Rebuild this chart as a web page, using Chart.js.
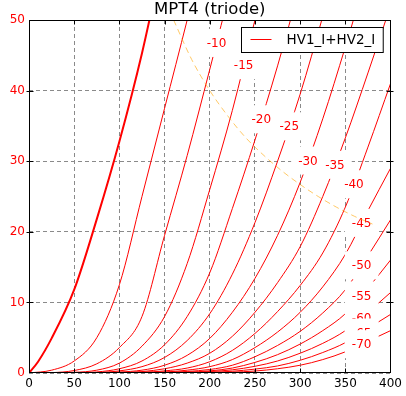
<!DOCTYPE html>
<html>
<head>
<meta charset="utf-8">
<script src="https://cdn.jsdelivr.net/npm/chart.js@4.4.1/dist/chart.umd.min.js"></script>
<style>
  html, body { margin: 0; padding: 0; background: #fff; }
</style>
</head>
<body>
<canvas id="c" width="406" height="396"></canvas>
<script>
// grid voltage of each plate curve (V)
const gridVolts = [0, -5, -10, -15, -20, -25, -30, -35, -40, -45, -50, -55, -60, -65, -70];

// plate curves: [plate V, plate mA]
const vg0  = [[0,0],[10,1.6],[25,4.9],[50,11.8],[75,21.8],[100,32.8],[125,45.3],[150,60]];
const vg5  = [[0,0],[25,0.4],[50,1.7],[75,5.0],[100,12.5],[125,25.0],[150,37.5],[175,50],[200,63]];
const vg10 = [[0,0],[25,0.05],[50,0.35],[75,1.3],[100,3.6],[125,8.0],[150,19.5],[175,30.8],[200,43],[225,55.5]];
const vg15 = [[0,0],[50,0.1],[75,0.4],[100,1.4],[125,3.8],[150,8.0],[175,15.5],[200,26.0],[225,37.2],[250,50],[275,62]];
const vg20 = [[0,0],[50,0.02],[75,0.15],[100,0.6],[125,1.7],[150,4.0],[175,8.0],[200,14.2],[225,23.3],[250,33.0],[275,43.5],[300,55]];
const vg25 = [[0,0],[75,0.05],[100,0.3],[125,0.9],[150,2.2],[175,4.6],[200,8.4],[225,14.0],[250,21.3],[275,30.0],[300,39.5],[325,50.5],[350,62]];
const vg30 = [[0,0],[100,0.15],[125,0.4],[150,1.1],[175,2.5],[200,4.9],[225,8.6],[250,13.4],[275,19.5],[300,27.0],[325,36.0],[350,46.2],[375,57]];
const vg35 = [[0,0],[100,0.05],[125,0.2],[150,0.6],[175,1.4],[200,2.8],[225,5.2],[250,8.6],[275,12.8],[300,17.9],[325,25.0],[350,33.3],[375,42.5],[400,52]];
const vg40 = [[0,0],[125,0.1],[150,0.3],[175,0.7],[200,1.6],[225,3.2],[250,5.6],[275,8.7],[300,12.4],[325,17.0],[350,23.5],[375,32],[400,41]];
const vg45 = [[0,0],[150,0.15],[175,0.4],[200,0.9],[225,1.9],[250,3.6],[275,5.8],[300,8.6],[325,12.2],[350,16.8],[375,23.0],[400,29.0]];
const vg50 = [[0,0],[150,0.08],[175,0.22],[200,0.5],[225,1.1],[250,2.3],[275,3.9],[300,5.9],[325,8.5],[350,11.8],[375,16.6],[400,21.7]];
const vg55 = [[0,0],[175,0.12],[200,0.3],[225,0.7],[250,1.5],[275,2.6],[300,4.1],[325,6.0],[350,8.4],[375,12.0],[400,16.0]];
const vg60 = [[0,0],[175,0.07],[200,0.2],[225,0.45],[250,0.95],[275,1.7],[300,2.8],[325,4.2],[350,6.0],[375,8.6],[400,11.4]];
const vg65 = [[0,0],[200,0.1],[225,0.25],[250,0.55],[275,1.0],[300,1.8],[325,2.9],[350,4.3],[375,6.3],[400,8.3]];
const vg70 = [[0,0],[200,0.05],[225,0.12],[250,0.28],[275,0.6],[300,1.1],[325,1.9],[350,3.0],[375,4.5],[400,6.0]];
const curves = [vg0, vg5, vg10, vg15, vg20, vg25, vg30, vg35, vg40, vg45, vg50, vg55, vg60, vg65, vg70];

// plate voltage where each inline label sits (curves -10 .. -70)
const labelPlateV = [207.5, 237.5, 257, 288, 308.6, 338.5, 359.5, 368, 368, 368, 368, 368, 368];

// max dissipation line (dashed orange)
const pdissV = [160, 180, 200, 220, 240, 260, 280, 300, 320, 340, 360, 380];
const pdissI = [50, 44.4, 40, 36.4, 33.3, 30.8, 28.6, 26.7, 25, 23.5, 22.2, 21.1];

const xTicks = [0, 50, 100, 150, 200, 250, 300, 350, 400];
const yTicks = [0, 10, 20, 30, 40, 50];

const seriesName = 'HV1_I+HV2_I';
const title = 'MPT4 (triode)';
const RED = '#ff0000';
const FONT = '"DejaVu Sans"';

function interp(pts, v) {
  for (let i = 1; i < pts.length; i++) {
    if (v <= pts[i][0]) {
      const [x0, y0] = pts[i - 1], [x1, y1] = pts[i];
      return y0 + (y1 - y0) * (v - x0) / (x1 - x0);
    }
  }
  return pts[pts.length - 1][1];
}

const overlay = {
  id: 'overlay',
  afterDatasetDraw(chart, args) {
    // labels go over the curves but under the dissipation line
    if (args.index !== 1) return;
    const { ctx, scales: { x, y } } = chart;
    ctx.save();
    ctx.font = '12px ' + FONT;
    ctx.textAlign = 'center';
    ctx.textBaseline = 'middle';
    labelPlateV.forEach((v, k) => {
      const n = k + 2;
      const txt = String(gridVolts[n]);
      const px = x.getPixelForValue(v);
      const py = y.getPixelForValue(interp(curves[n], v));
      const w = ctx.measureText(txt).width;
      ctx.fillStyle = '#fff';
      ctx.fillRect(px - w / 2 - 7, py - 14, w + 14, 28);
      ctx.fillStyle = RED;
      ctx.fillText(txt, px, py + 1);
    });
    ctx.restore();
  },
  afterDatasetsDraw(chart) {
    const { ctx, chartArea: a } = chart;
    ctx.save();
    ctx.font = '13.5px ' + FONT;
    const tw = ctx.measureText(seriesName).width;
    const w = 45 + tw + 8, h = 25;
    const x0 = Math.round(a.right - 8 - w) + 0.5, y0 = Math.round(a.top + 7) + 0.5;
    ctx.fillStyle = '#fff';
    ctx.fillRect(x0, y0, w, h);
    ctx.strokeStyle = '#000';
    ctx.lineWidth = 1;
    ctx.strokeRect(x0, y0, w, h);
    ctx.strokeStyle = RED;
    ctx.beginPath();
    ctx.moveTo(x0 + 9, y0 + 12);
    ctx.lineTo(x0 + 30, y0 + 12);
    ctx.stroke();
    ctx.fillStyle = '#000';
    ctx.textBaseline = 'middle';
    ctx.fillText(seriesName, x0 + 45, y0 + 13);
    ctx.restore();
  },
  afterDraw(chart) {
    const { ctx, chartArea: a, scales: { x, y } } = chart;
    ctx.save();
    ctx.strokeStyle = '#000';
    ctx.lineWidth = 1;
    const L = Math.round(a.left) + 0.5, R = Math.round(a.right) - 0.5;
    const T = Math.round(a.top) + 0.5, B = Math.round(a.bottom) - 0.5;
    ctx.strokeRect(L, T, R - L, B - T);
    ctx.beginPath();
    xTicks.slice(1, -1).forEach(v => {
      const px = Math.round(x.getPixelForValue(v)) + 0.5;
      ctx.moveTo(px, B); ctx.lineTo(px, B - 4);
      ctx.moveTo(px, T); ctx.lineTo(px, T + 4);
    });
    yTicks.slice(1, -1).forEach(v => {
      const py = Math.round(y.getPixelForValue(v)) + 0.5;
      ctx.moveTo(L - 3, py); ctx.lineTo(L + 4, py);
      ctx.moveTo(R - 4, py); ctx.lineTo(R + 3, py);
    });
    ctx.stroke();
    ctx.fillStyle = '#000';
    ctx.font = '16.5px ' + FONT;
    ctx.textAlign = 'center';
    ctx.textBaseline = 'alphabetic';
    ctx.fillText(title, (a.left + a.right) / 2, 14);
    ctx.restore();
  }
};

const datasets = [{
  label: 'Pmax',
  data: pdissV.map((v, i) => ({ x: v, y: pdissI[i] })),
  borderColor: 'rgba(255,165,0,0.6)',
  borderWidth: 1,
  borderDash: [6, 4],
  pointRadius: 0,
  cubicInterpolationMode: 'monotone',
}].concat(curves.map((pts, i) => ({
  label: seriesName,
  data: pts.map(([v, ia]) => ({ x: v, y: ia })),
  borderColor: RED,
  borderWidth: i === 0 ? 2 : 1,
  pointRadius: 0,
  cubicInterpolationMode: 'monotone',
})));

new Chart(document.getElementById('c'), {
  type: 'line',
  data: { datasets },
  options: {
    responsive: false,
    animation: false,
    devicePixelRatio: 1,
    events: [],
    layout: { padding: { top: 20, right: 15, left: 0, bottom: 0 } },
    plugins: { legend: { display: false }, title: { display: false }, tooltip: { enabled: false } },
    scales: {
      x: {
        type: 'linear', min: 0, max: 400,
        afterBuildTicks: s => { s.ticks = xTicks.map(v => ({ value: v })); },
        afterFit: s => { s.height = 23; },
        ticks: { color: '#000', font: { family: 'DejaVu Sans', size: 12 }, padding: 4, maxRotation: 0, autoSkip: false },
        grid: { color: '#8a8a8a', lineWidth: 1, drawTicks: false },
        border: { display: false, dash: [4, 3] },
      },
      y: {
        type: 'linear', min: 0, max: 50,
        afterBuildTicks: s => { s.ticks = yTicks.map(v => ({ value: v })); },
        afterFit: s => { s.width = 29; },
        ticks: { color: RED, font: { family: 'DejaVu Sans', size: 12 }, padding: 4, autoSkip: false },
        grid: { color: '#8a8a8a', lineWidth: 1, drawTicks: false },
        border: { display: false, dash: [4, 3] },
      },
    },
  },
  plugins: [overlay],
});
</script>
</body>
</html>
